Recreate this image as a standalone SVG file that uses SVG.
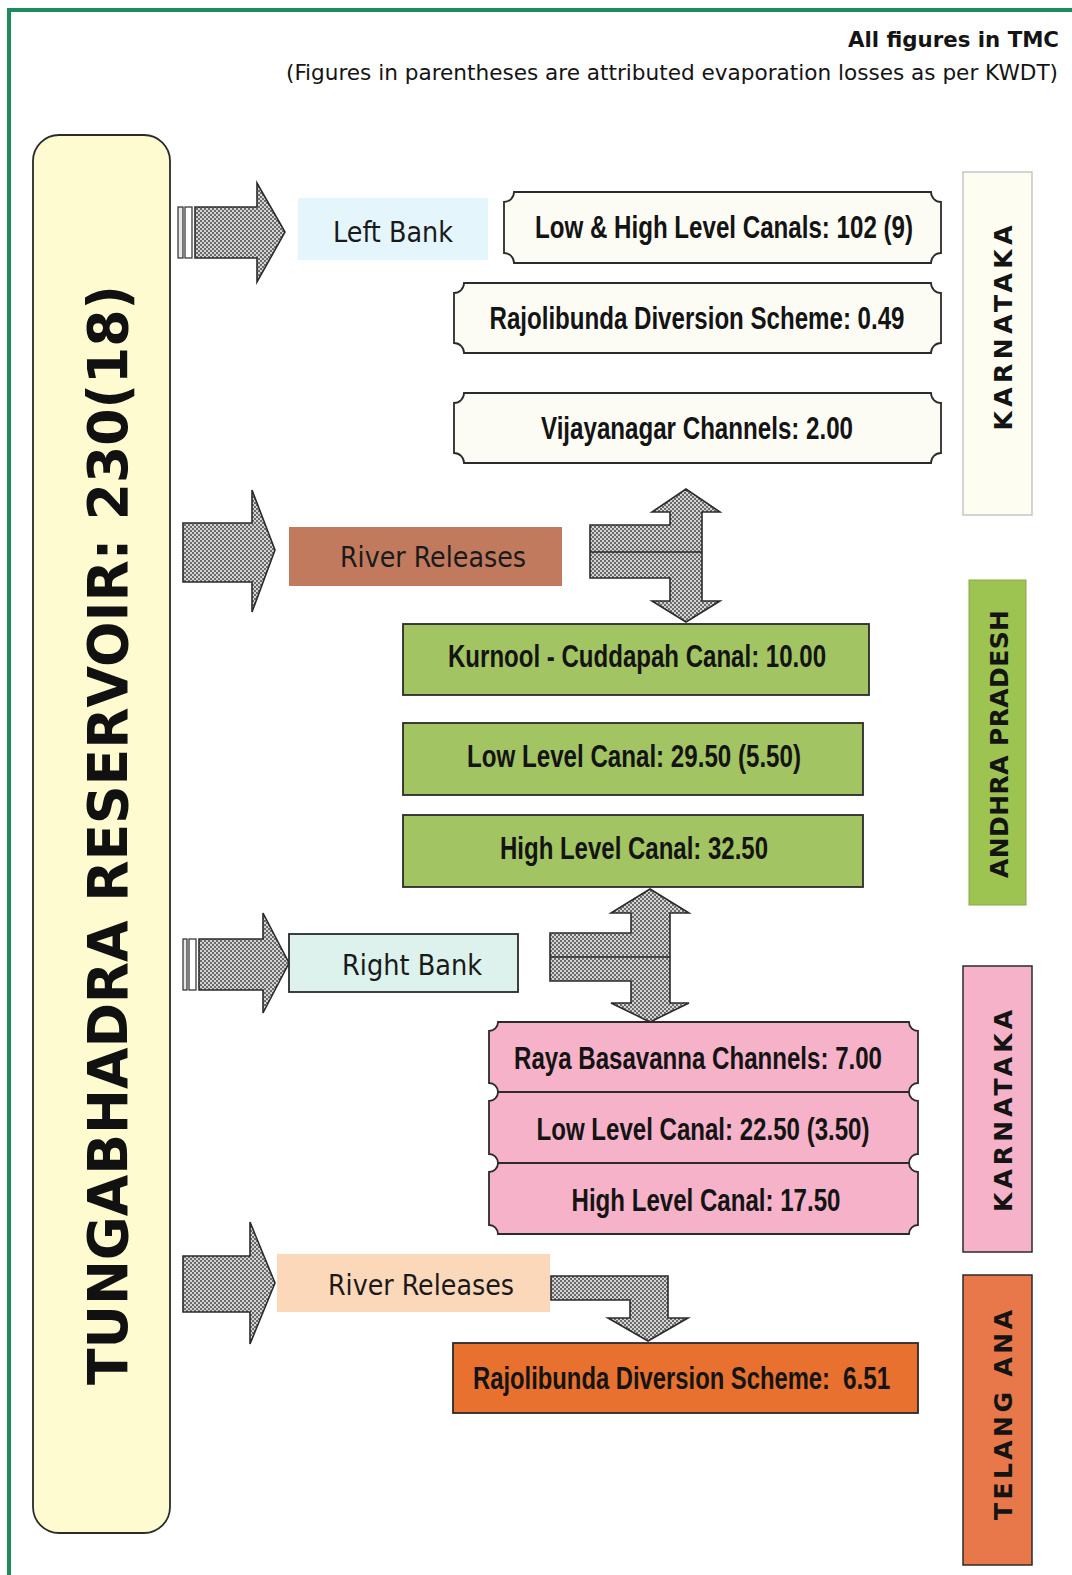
<svg xmlns="http://www.w3.org/2000/svg" width="1072" height="1575" viewBox="0 0 1072 1575">
<defs>
<pattern id="dots" width="4" height="4" patternUnits="userSpaceOnUse">
<rect width="4" height="4" fill="#d4d4d4"/>
<rect width="2" height="2" fill="#6a6a6a"/>
<rect x="2" y="2" width="2" height="2" fill="#6a6a6a"/>
</pattern>
<style>
.bd{stroke:#2b2b2b;stroke-width:1.8}
.arr{fill:url(#dots);stroke:#2b2b2b;stroke-width:1.6;stroke-linejoin:miter}
.lbl{font-family:"DejaVu Sans Condensed","DejaVu Sans",sans-serif;font-size:28px;fill:#1a1a1a;text-anchor:middle}
.cn{font-family:"Liberation Sans Narrow","Liberation Sans",Arial,sans-serif;font-weight:bold;font-size:31px;fill:#141414;text-anchor:middle}
.cs{font-family:"Liberation Sans",Arial,sans-serif;font-weight:bold;font-size:31px;fill:#141414;text-anchor:start}
.st{font-family:"DejaVu Sans",sans-serif;font-weight:bold;font-size:25px;fill:#141414;text-anchor:middle}
.hd{font-family:"DejaVu Sans Condensed","DejaVu Sans",sans-serif;font-size:22px;fill:#141414;text-anchor:end}
</style>
</defs>
<rect width="1072" height="1575" fill="#ffffff"/>
<path d="M1072,10 H9 V1575" fill="none" stroke="#1d8c5c" stroke-width="4"/>

<g id="header">
<text class="hd" x="1059" y="47" font-weight="bold" textLength="211" lengthAdjust="spacingAndGlyphs">All figures in TMC</text>
<text class="hd" x="1058" y="80" textLength="772" lengthAdjust="spacingAndGlyphs">(Figures in parentheses are attributed evaporation losses as per KWDT)</text>
</g>

<g id="reservoir">
<rect x="33" y="135" width="137" height="1398" rx="26" fill="#fefbd0" class="bd"/>
<text transform="translate(127,835) rotate(-90)" x="0" y="0" font-family="'DejaVu Sans',sans-serif" font-weight="bold" font-size="56" fill="#111" text-anchor="middle" textLength="1100" lengthAdjust="spacingAndGlyphs">TUNGABHADRA RESERVOIR: 230(18)</text>
</g>

<g id="connectors">
<rect x="178" y="207" width="5" height="51" fill="#e8e8e8" stroke="#2b2b2b" stroke-width="1.2"/>
<rect x="185" y="207" width="7" height="51" fill="#ffffff" stroke="#2b2b2b" stroke-width="1.2"/>
<path class="arr" d="M195,207 H257 V183 L285,232 L257,282 V258 H195 Z"/>
<path class="arr" d="M183,523 H252 V490 L275,550 L252,612 V582 H183 Z"/>
<path class="arr" d="M590,525 H670 V512 H652 L686,489 L720,512 H702 V601 H720 L686,622 L652,601 H670 V578 H590 Z"/>
<line x1="590" y1="552" x2="702" y2="552" stroke="#2b2b2b" stroke-width="1.4"/>
<rect x="183" y="939" width="4" height="51" fill="#e8e8e8" stroke="#2b2b2b" stroke-width="1.2"/>
<rect x="189" y="939" width="7" height="51" fill="#ffffff" stroke="#2b2b2b" stroke-width="1.2"/>
<path class="arr" d="M199,939 H263 V913 L289,963 L263,1013 V990 H199 Z"/>
<path class="arr" d="M550,933 H631 V913 H611 L650,889 L689,913 H670 V1003 H689 L650,1022 L611,1003 H631 V981 H550 Z"/>
<line x1="550" y1="957" x2="670" y2="957" stroke="#2b2b2b" stroke-width="1.4"/>
<path class="arr" d="M183,1256 H250 V1222 L275,1283 L250,1344 V1312 H183 Z"/>
<path class="arr" d="M551,1276 H668 V1318 H688 L648,1341 L608,1318 H630 V1300 H551 Z"/>
</g>

<g id="left-bank">
<rect x="298" y="198" width="190" height="62" fill="#e4f5fc"/>
<text class="lbl" x="393" y="242" textLength="120" lengthAdjust="spacingAndGlyphs">Left Bank</text>
</g>

<g id="lb-canals">
<path class="bd" fill="#fcfcf4" d="M514,192 H931 A10 10 0 0 0 941,202 V253 A10 10 0 0 0 931,263 H514 A10 10 0 0 0 504,253 V202 A10 10 0 0 0 514,192 Z"/>
<text class="cn" x="724" y="238" textLength="378" lengthAdjust="spacingAndGlyphs">Low &amp; High Level Canals: 102 (9)</text>
</g>

<g id="rds-049">
<path class="bd" fill="#fcfcf4" d="M464,283 H931 A10 10 0 0 0 941,293 V343 A10 10 0 0 0 931,353 H464 A10 10 0 0 0 454,343 V293 A10 10 0 0 0 464,283 Z"/>
<text class="cn" x="697" y="329" textLength="415" lengthAdjust="spacingAndGlyphs">Rajolibunda Diversion Scheme: 0.49</text>
</g>

<g id="vijayanagar">
<path class="bd" fill="#fcfcf4" d="M464,393 H931 A10 10 0 0 0 941,403 V453 A10 10 0 0 0 931,463 H464 A10 10 0 0 0 454,453 V403 A10 10 0 0 0 464,393 Z"/>
<text class="cn" x="697" y="439" textLength="312" lengthAdjust="spacingAndGlyphs">Vijayanagar Channels: 2.00</text>
</g>

<g id="state-karnataka-1">
<rect x="963" y="172" width="69" height="343" fill="#fdfdf2" stroke="#b8b8b8" stroke-width="1.2"/>
<text class="st" transform="translate(1012,328) rotate(-90)" x="0" y="0" textLength="205" lengthAdjust="spacing">KARNATAKA</text>
</g>

<g id="river-releases-1">
<rect x="289" y="527" width="273" height="59" fill="#c27a5e"/>
<text class="lbl" x="433" y="567" textLength="186" lengthAdjust="spacingAndGlyphs">River Releases</text>
</g>

<g id="kc-canal">
<rect x="403" y="624" width="466" height="71" fill="#a3c462" class="bd"/>
<text class="cn" x="637" y="667" textLength="378" lengthAdjust="spacingAndGlyphs">Kurnool - Cuddapah Canal: 10.00</text>
</g>

<g id="ap-llc">
<rect x="403" y="723" width="460" height="72" fill="#a3c462" class="bd"/>
<text class="cn" x="634" y="767" textLength="334" lengthAdjust="spacingAndGlyphs">Low Level Canal: 29.50 (5.50)</text>
</g>

<g id="ap-hlc">
<rect x="403" y="815" width="460" height="72" fill="#a3c462" class="bd"/>
<text class="cn" x="634" y="859" textLength="268" lengthAdjust="spacingAndGlyphs">High Level Canal: 32.50</text>
</g>

<g id="state-andhra">
<rect x="969" y="580" width="57" height="325" fill="#9dc350" stroke="#8aa84a" stroke-width="1"/>
<text class="st" font-size="19" transform="translate(1008,744) rotate(-90)" x="0" y="0" textLength="268" lengthAdjust="spacing">ANDHRA  PRADESH</text>
</g>

<g id="right-bank">
<rect x="289" y="934" width="229" height="58" fill="#ddf2ec" class="bd" stroke-width="1.4"/>
<text class="lbl" x="412" y="975" textLength="140" lengthAdjust="spacingAndGlyphs">Right Bank</text>
</g>

<g id="raya">
<path class="bd" fill="#f5b2c9" d="M498,1022 H909 A9 9 0 0 0 918,1031 V1083 A9 9 0 0 0 909,1092 H498 A9 9 0 0 0 489,1083 V1031 A9 9 0 0 0 498,1022 Z"/>
<text class="cn" x="698" y="1069" textLength="368" lengthAdjust="spacingAndGlyphs">Raya Basavanna Channels: 7.00</text>
</g>

<g id="ka-llc">
<path class="bd" fill="#f5b2c9" d="M498,1092 H909 A9 9 0 0 0 918,1101 V1154 A9 9 0 0 0 909,1163 H498 A9 9 0 0 0 489,1154 V1101 A9 9 0 0 0 498,1092 Z"/>
<text class="cn" x="703" y="1140" textLength="333" lengthAdjust="spacingAndGlyphs">Low Level Canal: 22.50 (3.50)</text>
</g>

<g id="ka-hlc">
<path class="bd" fill="#f5b2c9" d="M498,1163 H909 A9 9 0 0 0 918,1172 V1225 A9 9 0 0 0 909,1234 H498 A9 9 0 0 0 489,1225 V1172 A9 9 0 0 0 498,1163 Z"/>
<text class="cn" x="706" y="1211" textLength="269" lengthAdjust="spacingAndGlyphs">High Level Canal: 17.50</text>
</g>

<g id="state-karnataka-2">
<rect x="963" y="966" width="69" height="286" fill="#f5b2c9" stroke="#2b2b2b" stroke-width="1.5"/>
<text class="st" transform="translate(1012,1111) rotate(-90)" x="0" y="0" textLength="202" lengthAdjust="spacing">KARNATAKA</text>
</g>

<g id="river-releases-2">
<rect x="277" y="1254" width="273" height="58" fill="#fcd8bb"/>
<text class="lbl" x="421" y="1295" textLength="186" lengthAdjust="spacingAndGlyphs">River Releases</text>
</g>

<g id="rds-651">
<rect x="453" y="1343" width="465" height="70" fill="#e8712f" class="bd"/>
<text class="cs" transform="translate(473,1389) scale(0.768,1)" x="0" y="0">Rajolibunda Diversion Scheme:</text>
<text class="cs" transform="translate(843,1389) scale(0.786,1)" x="0" y="0" font-size="36">6.51</text>
</g>

<g id="state-telangana">
<rect x="963" y="1275" width="69" height="290" fill="#e8784a" stroke="#2b2b2b" stroke-width="1.5"/>
<text class="st" transform="translate(1012,1415) rotate(-90)" x="0" y="0" textLength="210" lengthAdjust="spacing">TELANG ANA</text>
</g>
</svg>
